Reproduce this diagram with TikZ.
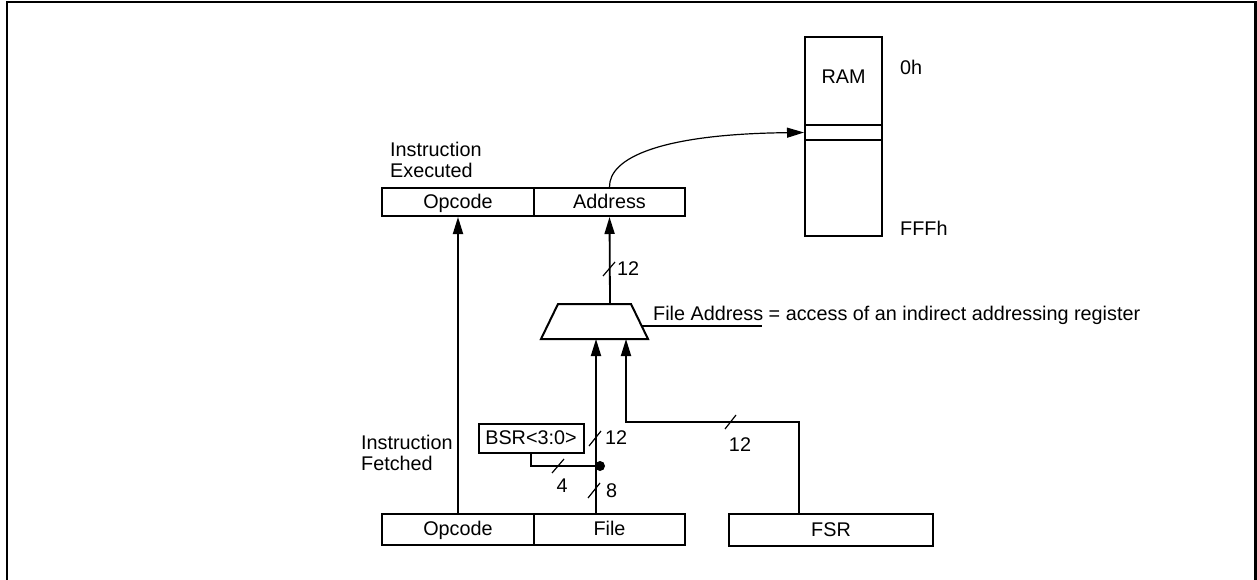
\documentclass[tikz,border=0pt]{standalone}
\usepackage{fontspec}
\setmainfont{Liberation Sans}
\usetikzlibrary{arrows.meta}
\newcommand\dfont{\fontsize{19.8}{21}\selectfont}
\begin{document}
\begin{tikzpicture}[x=1pt,y=-1pt,
  box/.style={draw, line width=2pt, minimum height=28pt, inner sep=0pt, font=\dfont, text height=14pt, text depth=1pt},
  lbl/.style={inner sep=0pt, font=\dfont},
  conn/.style={line width=1.8pt},
  arr/.style={conn, -{Triangle[length=17pt,width=10pt]}},
  buss/.style={line width=1.2pt},
  frame/.style={line width=2.5pt}
]
\useasboundingbox (0,0) rectangle (1257,580);
\clip (0,0) rectangle (1257,580);
\draw[frame] (7,600) -- (7,2) -- (1255.5,2) -- (1255.5,600);

% RAM
\node[draw, line width=2pt, minimum width=77pt, minimum height=199pt, inner sep=0pt] (ram) at (843.5,136.5) {};
\node[draw, line width=2pt, minimum width=77pt, minimum height=15pt, inner sep=0pt] (slot) at (843.5,132.5) {};
\node[lbl] (ramt) at (843.5,77) {RAM};
\node[lbl, anchor=west] (zh) at (900,67) {0h};
\node[lbl, anchor=west] (fffh) at (900,228) {FFFh};

% executed instruction
\node[lbl, anchor=west, align=left] (exlbl) at (390,160) {Instruction\\Executed};
\node[box, minimum width=152pt] (exop) at (458,202) {Opcode};
\node[box, minimum width=151pt] (exaddr) at (609.5,202) {Address};

% fetched instruction
\node[lbl, anchor=west, align=left] (felbl) at (361,453) {Instruction\\Fetched};
\node[box, minimum width=152pt, minimum height=31pt] (fop) at (458,529) {Opcode};
\node[box, minimum width=151pt, minimum height=31pt] (ffile) at (609.5,529) {File};
\node[box, minimum width=204pt, minimum height=32pt] (fsr) at (831,530) {FSR};
\node[box, minimum width=105pt, minimum height=29pt] (bsr) at (531,438) {BSR<3:0>};

% mux
\coordinate (muxtop) at (610,304);
\coordinate (in1) at (596,339);
\coordinate (in2) at (626,339);
\draw[line width=2pt] (558,304) -- (631,304) -- (648,339) -- (541,339) -- cycle;
\coordinate (lead) at (642,326);
\draw[conn, line width=1.5pt] (lead) -- ++(120,0);
\node[lbl, anchor=base west] (fatext) at (653,320) {File Address = access of an indirect addressing register};

% connectors
\draw[arr] (fop.north) -- (exop.south);
\draw[arr] (muxtop) -- (exaddr.south);
\draw[arr] (in1 |- ffile.north) -- (in1);
\coordinate (fsrtap) at (799,422);
\draw[arr] (fsr.north -| fsrtap) -- (fsrtap) -- (in2 |- fsrtap) -- (in2);
\node[circle, fill, inner sep=0pt, minimum size=10pt] (dot) at (600,466) {};
\coordinate (bsrc) at (531,466);
\draw[conn] (bsr.south) -- (bsrc) -- (dot.center);
\draw[line width=1.2pt, -{Triangle[length=17pt,width=10pt]}] (exaddr.north) .. controls (609,158) and (660,134) .. (slot.west);

% bus widths
\draw[buss] (603,276) -- (615,262);
\node[lbl, anchor=west] (b1) at (617,269) {12};
\draw[buss] (589,446) -- (601,431);
\node[lbl, anchor=west] (b2) at (605,438) {12};
\draw[buss] (552,473) -- (564,459);
\node[lbl] (b3) at (562,486) {4};
\draw[buss] (588,498) -- (600,483);
\node[lbl, anchor=west] (b4) at (606,491) {8};
\draw[buss] (725,429) -- (736,415);
\node[lbl] (b5) at (740,445) {12};
\end{tikzpicture}
\end{document}
